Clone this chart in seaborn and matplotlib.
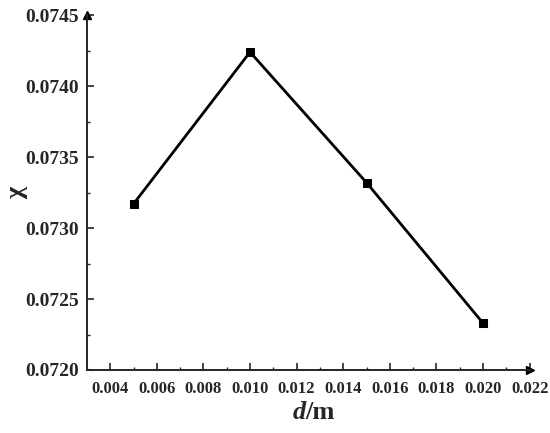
import pandas as pd
import matplotlib.pyplot as plt
import seaborn as sns
from matplotlib.ticker import MultipleLocator, FormatStrFormatter

# --- data ---
d_values = [0.005, 0.010, 0.015, 0.020]
chi_values = [0.07317, 0.07424, 0.07332, 0.07233]
x_ticks = [0.004, 0.006, 0.008, 0.010, 0.012, 0.014, 0.016, 0.018, 0.020, 0.022]
y_ticks = [0.0720, 0.0725, 0.0730, 0.0735, 0.0740, 0.0745]

df = pd.DataFrame({"d": d_values, "chi": chi_values})

sns.set_style("ticks")
plt.rcParams['font.family'] = ['Liberation Serif', 'DejaVu Serif']
plt.rcParams['font.weight'] = 'bold'

fig = plt.figure(figsize=(5.5, 4.33), dpi=100)
ax = fig.add_axes([0.158, 0.1455, 0.805, 0.8195])

sns.lineplot(data=df, x="d", y="chi", marker="s", markersize=6, color="black",
             linewidth=2.0, markeredgecolor="black", ax=ax)

ax.set_xlim(0.003, 0.022)
ax.set_ylim(0.0720, 0.0745)
ax.set_xticks(x_ticks)
ax.set_yticks(y_ticks)
ax.xaxis.set_minor_locator(MultipleLocator(0.001))
ax.yaxis.set_minor_locator(MultipleLocator(0.00025))
ax.xaxis.set_major_formatter(FormatStrFormatter("%.3f"))
ax.yaxis.set_major_formatter(FormatStrFormatter("%.4f"))

ax.tick_params(which="major", direction="in", length=5, width=1.2, pad=6)
ax.tick_params(axis="y", which="major", labelsize=14)
ax.tick_params(axis="x", which="major", labelsize=12, pad=8)
ax.tick_params(which="minor", direction="in", length=2.5, width=1.0)
for lab in ax.get_xticklabels() + ax.get_yticklabels():
    lab.set_fontweight("bold")

sns.despine(ax=ax)
for s in ["left", "bottom"]:
    ax.spines[s].set_linewidth(1.4)

# arrow heads on the axes
ax.plot(1, 0, ">k", markersize=6, transform=ax.transAxes, clip_on=False)
ax.plot(0, 1, "^k", markersize=6, transform=ax.transAxes, clip_on=False)

ax.set_xlabel("")
ax.set_ylabel("")
ax.text(0.494, -0.121, "d", transform=ax.transAxes, fontsize=19, fontweight="bold",
        fontstyle="italic", ha="right", va="center")
ax.text(0.494, -0.121, "/m", transform=ax.transAxes, fontsize=19, fontweight="bold",
        ha="left", va="center")
ax.text(-0.158, 0.4986, "χ", transform=ax.transAxes, fontsize=19, fontweight="bold",
        rotation=90, ha="center", va="center")

plt.savefig("out.png", dpi=100)
